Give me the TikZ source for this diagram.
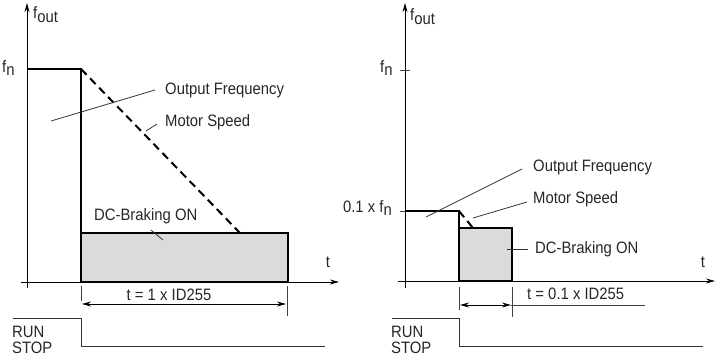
\documentclass[tikz,border=0pt]{standalone}
\usepackage{fontspec}
\setmainfont{Liberation Sans}[FakeStretch=0.9]
\usetikzlibrary{arrows.meta}
\newcommand{\lowsub}[1]{\raisebox{-0.45ex}{#1}}
\begin{document}
\begin{tikzpicture}[x=1pt,y=-1pt,
  lbl/.style={font=\fontsize{16.5}{18}\selectfont, inner sep=0pt, text=black!85},
  axisline/.style={line width=1pt,-{Stealth[length=9pt,width=5pt]}},
  freq/.style={line width=2pt,line join=miter},
  motor/.style={line width=2pt,dash pattern=on 8pt off 5pt},
  brake/.style={draw,line width=2pt,fill=black!14},
  leader/.style={line width=0.8pt,black!80},
  tickline/.style={line width=0.9pt,black!75},
  dimarrow/.style={line width=0.9pt,{Stealth[length=9pt,width=5pt]}-{Stealth[length=9pt,width=5pt]}},
  sig/.style={line width=1pt,black!80}]
\useasboundingbox (0,0) rectangle (715,356);

% ================= LEFT DIAGRAM =================
\coordinate (LyB) at (27,288);
\coordinate (LyT) at (27,3);
\coordinate (LxL) at (21,282);
\coordinate (LxR) at (339,282);
\draw[axisline] (LyB) -- (LyT);
\draw[axisline] (LxL) -- (LxR);
\node[lbl,anchor=west] (Lfout) at (33,15) {f\lowsub{out}};
\node[lbl,anchor=west] (Lfn) at (2,68) {f\lowsub{n}};
\node[lbl] (Lt) at (328,262) {t};

\coordinate (Lf0) at (27,69);
\coordinate (Lf1) at (81,69);
\coordinate (Lf2) at (81,282);
\coordinate (Lm1) at (240,233);
\draw[brake] (81,233) rectangle (288,282);
\draw[freq] (Lf0) -- (Lf1) -- (Lf2);
\draw[motor] (Lf1) -- (Lm1);

\node[lbl,anchor=west] (Lof) at (165,90) {Output Frequency};
\coordinate (Lofa) at (51,121);
\coordinate (Lofb) at (155,90);
\draw[leader] (Lofa) -- (Lofb);
\node[lbl,anchor=west] (Lms) at (165,122) {Motor Speed};
\coordinate (Lmsa) at (146,131);
\coordinate (Lmsb) at (157,124);
\draw[leader] (Lmsa) -- (Lmsb);
\node[lbl,anchor=west] (Ldc) at (94,216) {DC-Braking ON};
\coordinate (Ldca) at (151,230);
\coordinate (Ldcb) at (163,240);
\draw[leader] (Ldca) -- (Ldcb);

\coordinate (Ld1a) at (81,286); \coordinate (Ld1b) at (81,301);
\coordinate (Ld2a) at (287,286); \coordinate (Ld2b) at (287,316);
\draw[tickline] (Ld1a) -- (Ld1b);
\draw[tickline] (Ld2a) -- (Ld2b);
\coordinate (Lda) at (82,304); \coordinate (Ldb) at (286,304);
\draw[dimarrow] (Lda) -- (Ldb);
\node[lbl] (Ldt) at (169,295) {t = 1 x ID255};

\coordinate (Ls0) at (13,318); \coordinate (Ls1) at (81,318);
\coordinate (Ls2) at (81,346); \coordinate (Ls3) at (325,346);
\draw[sig] (Ls0) -- (Ls1) -- (Ls2) -- (Ls3);
\node[lbl,anchor=west] (Lrun) at (12,332) {RUN};
\node[lbl,anchor=west] (Lstop) at (12,348) {STOP};

% ================= RIGHT DIAGRAM =================
\coordinate (RyB) at (405,288);
\coordinate (RyT) at (405,3);
\coordinate (RxL) at (398,281);
\coordinate (RxR) at (715,281);
\draw[axisline] (RyB) -- (RyT);
\draw[axisline] (RxL) -- (RxR);
\node[lbl,anchor=west] (Rfout) at (410,17) {f\lowsub{out}};
\node[lbl,anchor=west] (Rfn) at (380,68) {f\lowsub{n}};
\coordinate (Rtk1a) at (400,70); \coordinate (Rtk1b) at (410,70);
\draw[tickline] (Rtk1a) -- (Rtk1b);
\coordinate (Rtk2a) at (400,211); \coordinate (Rtk2b) at (405,211);
\draw[tickline] (Rtk2a) -- (Rtk2b);
\node[lbl,anchor=east] (R01) at (392,208) {0.1 x f\lowsub{n}};
\node[lbl] (Rt) at (703,262) {t};

\coordinate (Rf0) at (405,211);
\coordinate (Rf1) at (459,211);
\coordinate (Rf2) at (459,281);
\coordinate (Rm1) at (473,228);
\draw[brake] (459,228) rectangle (512,281);
\draw[freq] (Rf0) -- (Rf1) -- (Rf2);
\draw[motor] (Rf1) -- (Rm1);

\node[lbl,anchor=west] (Rof) at (533,167) {Output Frequency};
\coordinate (Rofa) at (426,217);
\coordinate (Rofb) at (522,169);
\draw[leader] (Rofa) -- (Rofb);
\node[lbl,anchor=west] (Rms) at (533,199) {Motor Speed};
\coordinate (Rmsa) at (473,218);
\coordinate (Rmsb) at (527,202);
\draw[leader] (Rmsa) -- (Rmsb);
\node[lbl,anchor=west] (Rdc) at (535,249) {DC-Braking ON};
\coordinate (Rdca) at (507,249);
\coordinate (Rdcb) at (528,249);
\draw[leader] (Rdca) -- (Rdcb);

\coordinate (Rd1a) at (459,287); \coordinate (Rd1b) at (459,310);
\coordinate (Rd2a) at (512,287); \coordinate (Rd2b) at (512,317);
\draw[tickline] (Rd1a) -- (Rd1b);
\draw[tickline] (Rd2a) -- (Rd2b);
\coordinate (Rda) at (460,305); \coordinate (Rdb) at (511,305);
\draw[dimarrow] (Rda) -- (Rdb);
\coordinate (Rdc2) at (645,305);
\draw[tickline] (Rdb) -- (Rdc2);
\node[lbl,anchor=west] (Rdt) at (527,294) {t = 0.1 x ID255};

\coordinate (Rs0) at (392,318); \coordinate (Rs1) at (459,318);
\coordinate (Rs2) at (459,346); \coordinate (Rs3) at (703,346);
\draw[sig] (Rs0) -- (Rs1) -- (Rs2) -- (Rs3);
\node[lbl,anchor=west] (Rrun) at (391,332) {RUN};
\node[lbl,anchor=west] (Rstop) at (391,348) {STOP};
\end{tikzpicture}
\end{document}
